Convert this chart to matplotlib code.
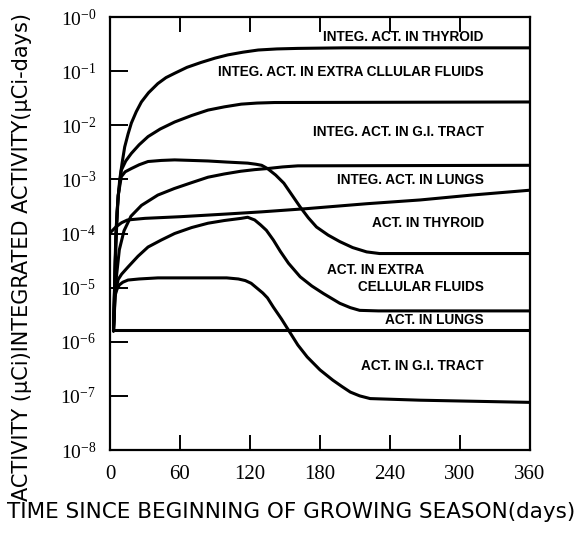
import matplotlib
matplotlib.use("Agg")
import matplotlib.pyplot as plt
import numpy as np

# ---- data (days, log10 value) ----
integ_thyroid_t = [3, 4.5, 6, 8.3, 10.5, 12.6, 15.5, 18.3, 22.5, 26.9, 33, 41, 48, 55.4, 66, 78, 90, 101, 114, 127, 143, 161, 200, 360]
integ_thyroid_v = [-5.8, -4.5, -3.6, -3.01, -2.68, -2.40, -2.16, -1.96, -1.75, -1.57, -1.40, -1.23, -1.12, -1.04, -0.93, -0.84, -0.76, -0.70, -0.65, -0.61, -0.59, -0.58, -0.57, -0.57]

integ_ecf_t = [3, 5, 7, 9.7, 13.5, 18.3, 25, 32.6, 43, 55.4, 70, 84, 98, 112.5, 126, 141, 360]
integ_ecf_v = [-5.8, -4.2, -3.3, -2.83, -2.66, -2.52, -2.36, -2.21, -2.07, -1.94, -1.82, -1.72, -1.66, -1.61, -1.59, -1.58, -1.57]

integ_gi_t = [3, 5, 8, 12, 18, 27, 41, 55, 70, 84, 98, 112, 124, 135, 148, 161, 360]
integ_gi_v = [-5.8, -4.9, -4.3, -3.95, -3.68, -3.48, -3.29, -3.17, -3.06, -2.96, -2.90, -2.85, -2.82, -2.80, -2.77, -2.75, -2.74]

integ_lungs_t = [0, 5, 10, 15, 30, 60, 100, 130, 169, 220, 266, 310, 360]
integ_lungs_v = [-3.99, -3.88, -3.80, -3.75, -3.72, -3.69, -3.64, -3.60, -3.54, -3.45, -3.38, -3.29, -3.20]

act_thyroid_t = [3, 5, 7, 9.7, 13, 18.3, 25, 32.6, 44, 55.4, 70, 84, 100, 118, 125, 130, 135, 142, 149, 156, 163, 170, 177, 187, 197, 208, 220, 231, 360]
act_thyroid_v = [-5.8, -4.0, -3.3, -2.95, -2.86, -2.80, -2.73, -2.67, -2.65, -2.64, -2.65, -2.66, -2.68, -2.70, -2.72, -2.74, -2.80, -2.92, -3.07, -3.29, -3.51, -3.71, -3.88, -4.03, -4.15, -4.26, -4.34, -4.37, -4.37]

act_ecf_t = [3, 4.5, 7, 10, 15.4, 24, 32.6, 44, 55.4, 70, 84, 98, 112.5, 118, 124, 129, 134, 140, 146, 153, 163, 173, 183, 197, 206, 214, 230, 360]
act_ecf_v = [-5.7, -5.1, -4.85, -4.75, -4.62, -4.42, -4.25, -4.12, -4.00, -3.89, -3.81, -3.76, -3.72, -3.70, -3.75, -3.84, -3.94, -4.12, -4.33, -4.55, -4.80, -4.97, -5.11, -5.29, -5.37, -5.42, -5.43, -5.43]

act_lungs_t = [3, 360]
act_lungs_v = [-5.79, -5.79]

act_gi_t = [3, 4, 6, 8, 11, 15.4, 25, 41, 70, 100, 110, 116, 121, 126, 131, 135, 140, 147, 154, 161, 169, 180, 191, 199, 206, 214, 223, 266, 360]
act_gi_v = [-5.8, -5.17, -5.03, -4.95, -4.90, -4.86, -4.84, -4.82, -4.82, -4.82, -4.84, -4.87, -4.92, -5.01, -5.10, -5.19, -5.36, -5.58, -5.82, -6.06, -6.28, -6.52, -6.71, -6.83, -6.93, -7.00, -7.05, -7.08, -7.12]

series = [
    (integ_thyroid_t, integ_thyroid_v),
    (integ_ecf_t, integ_ecf_v),
    (integ_gi_t, integ_gi_v),
    (integ_lungs_t, integ_lungs_v),
    (act_thyroid_t, act_thyroid_v),
    (act_ecf_t, act_ecf_v),
    (act_lungs_t, act_lungs_v),
    (act_gi_t, act_gi_v),
]

labels = [
    "INTEG. ACT. IN THYROID",
    "INTEG. ACT. IN EXTRA CLLULAR FLUIDS",
    "INTEG. ACT. IN G.I. TRACT",
    "INTEG. ACT. IN LUNGS",
    "ACT. IN THYROID",
    "ACT. IN LUNGS",
    "ACT. IN G.I. TRACT",
]

x_ticks = [0, 60, 120, 180, 240, 300, 360]
y_exps = [0, -1, -2, -3, -4, -5, -6, -7, -8]

plt.rcParams['mathtext.fontset'] = 'stix'

fig = plt.figure(figsize=(5.77, 5.35), dpi=100)
ax = fig.add_axes([110/577, 1-450/535, 420/577, 433/535])

for t, v in series:
    ax.plot(t, 10.0**np.array(v), color='black', lw=2.2, solid_joinstyle='round', solid_capstyle='round')

ax.set_yscale('log')
ax.set_xlim(0, 360)
ax.set_ylim(1e-8, 1)
ax.set_xticks(x_ticks)
ax.set_xticklabels([str(x) for x in x_ticks], fontfamily='Liberation Serif', fontsize=15)
ax.set_yticks([10.0**e for e in y_exps])
ax.set_yticklabels([r'$\mathregular{10^{-%d}}$' % (-e) for e in y_exps], fontfamily='Liberation Serif', fontsize=14)
ax.minorticks_off()
ax.tick_params(axis='x', direction='in', length=11, width=1.4, top=True, bottom=True, pad=11)
ax.tick_params(axis='y', direction='in', length=13, width=1.4, left=True, right=False, pad=10)
for s in ax.spines.values():
    s.set_linewidth(1.6)

for tl in [ax.xaxis.get_major_ticks()[0], ax.xaxis.get_major_ticks()[-1]]:
    tl.tick1line.set_visible(False)
    tl.tick2line.set_visible(False)
for tl in [ax.yaxis.get_major_ticks()[0], ax.yaxis.get_major_ticks()[-1]]:
    tl.tick1line.set_visible(False)

lab_kw = dict(transform=ax.transAxes, fontfamily='Liberation Sans', fontsize=9.8, fontweight='bold', va='center')
ax.text(0.890, 0.954, labels[0], ha='right', **lab_kw)
ax.text(0.890, 0.873, labels[1], ha='right', **lab_kw)
ax.text(0.890, 0.734, labels[2], ha='right', **lab_kw)
ax.text(0.890, 0.624, labels[3], ha='right', **lab_kw)
ax.text(0.890, 0.524, labels[4], ha='right', **lab_kw)
ax.text(0.517, 0.416, "ACT. IN EXTRA", ha='left', **lab_kw)
ax.text(0.890, 0.376, "CELLULAR FLUIDS", ha='right', **lab_kw)
ax.text(0.890, 0.300, labels[5], ha='right', **lab_kw)
ax.text(0.890, 0.194, labels[6], ha='right', **lab_kw)

fig.text(0.505, 1-512/535, "TIME SINCE BEGINNING OF GROWING SEASON(days)",
         ha='center', va='center', fontfamily='DejaVu Sans', fontsize=15.5)
fig.text(22/577, 1-257/535, "ACTIVITY (\u03bcCi)INTEGRATED ACTIVITY(\u03bcCi-days)",
         ha='center', va='center', rotation=90, fontfamily='DejaVu Sans', fontsize=15)

fig.savefig('out.png', dpi=100)
